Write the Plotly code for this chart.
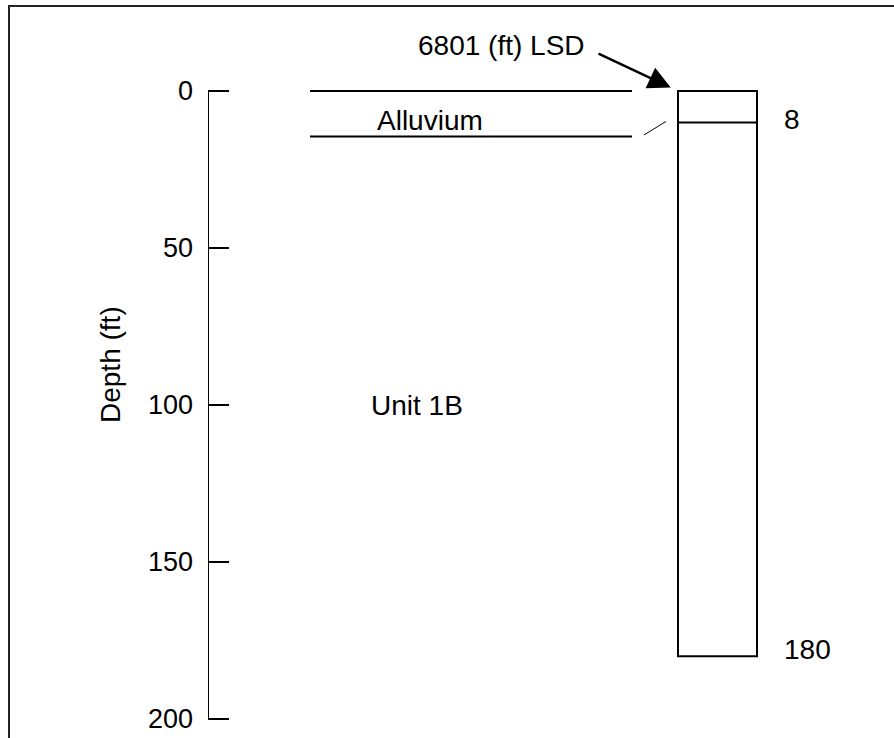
import plotly.graph_objects as go

# ---- data ----
depth_ticks = [0, 50, 100, 150, 200]
depth_tick_labels = ["0", "50", "100", "150", "200"]
lsd_elevation_ft = 6801
well_total_depth = 180
alluvium_base_label = 8
column_contact_depth = 10        # contact line as drawn inside the column
left_alluvium_base = 14.5        # base of alluvium band on the left
unit_names = ["Alluvium", "Unit 1B"]
unit_label_depths = [9.4, 100]

FONT = "Liberation Sans, Arial, sans-serif"
W, H = 894, 738
PX_TOP0 = 91       # pixel of depth 0
PX_200 = 719       # pixel of depth 200
ppf = (PX_200 - PX_TOP0) / 200.0
plot_top, plot_bot = 82, 726
y_lo = -(PX_TOP0 - plot_top) / ppf
y_hi = 200 + (plot_bot - PX_200) / ppf
LEFT = 208

def ypaper(px):
    return (plot_bot - px) / (plot_bot - plot_top)

fig = go.Figure()
fig.add_trace(go.Scatter(x=[LEFT], y=[0], mode="markers", marker=dict(opacity=0),
                         hoverinfo="skip", showlegend=False))

line = dict(color="black", width=2)
shapes = []
# depth axis line
shapes.append(dict(type="line", xref="x", yref="y", x0=LEFT, x1=LEFT,
                   y0=depth_ticks[0], y1=depth_ticks[-1], line=line))
# alluvium band lines (left)
shapes.append(dict(type="line", xref="x", yref="y", x0=310, x1=632,
                   y0=0, y1=0, line=line))
shapes.append(dict(type="line", xref="x", yref="y", x0=310, x1=632,
                   y0=left_alluvium_base, y1=left_alluvium_base, line=line))
# connector
shapes.append(dict(type="line", xref="x", yref="y", x0=644, x1=666,
                   y0=left_alluvium_base - 0.5, y1=column_contact_depth - 0.3,
                   line=dict(color="black", width=1)))
# well column
shapes.append(dict(type="rect", xref="x", yref="y", x0=678, x1=757,
                   y0=0, y1=well_total_depth, line=line, fillcolor="rgba(0,0,0,0)"))
shapes.append(dict(type="line", xref="x", yref="y", x0=678, x1=757,
                   y0=column_contact_depth, y1=column_contact_depth, line=line))
# outer frame
shapes.append(dict(type="rect", xref="paper", yref="paper",
                   x0=(9 - LEFT) / (W - LEFT), x1=1.02,
                   y0=-0.1, y1=ypaper(6),
                   line=dict(color="#222222", width=2), fillcolor="rgba(0,0,0,0)"))

tf = dict(family=FONT, size=28, color="black")
tick_font = dict(family=FONT, size=27, color="black")
ann = []
ann.append(dict(x=430, y=unit_label_depths[0], xref="x", yref="y", text=unit_names[0],
                showarrow=False, font=tf, xanchor="center", yanchor="middle"))
ann.append(dict(x=417, y=unit_label_depths[1], xref="x", yref="y", text=unit_names[1],
                showarrow=False, font=tf, xanchor="center", yanchor="middle"))
ann.append(dict(x=782, y=alluvium_base_label, xref="x", yref="y",
                text=str(alluvium_base_label), showarrow=False, font=tf,
                xanchor="left", yanchor="middle", yshift=-3))
ann.append(dict(x=782, y=well_total_depth, xref="x", yref="y",
                text=str(well_total_depth), showarrow=False, font=tf,
                xanchor="left", yanchor="middle", yshift=7))
ann.append(dict(x=501, y=ypaper(45), xref="x", yref="paper",
                text=f"{lsd_elevation_ft} (ft) LSD", showarrow=False, font=tf,
                xanchor="center", yanchor="middle"))
ann.append(dict(x=678, y=0, xref="x", yref="y", text="", showarrow=True,
                ax=-81, ay=-38, arrowhead=2, arrowsize=1.8, arrowwidth=2.5,
                arrowcolor="black", standoff=8))
ann.append(dict(x=(110 - LEFT) / (W - LEFT), y=ypaper(365), xref="paper", yref="paper",
                text="Depth (ft)", textangle=-90, showarrow=False, font=tf,
                xanchor="center", yanchor="middle"))

fig.update_layout(
    width=W, height=H,
    margin=dict(l=LEFT, r=0, t=plot_top, b=H - plot_bot, autoexpand=False),
    paper_bgcolor="white", plot_bgcolor="white",
    showlegend=False,
    xaxis=dict(visible=False, range=[LEFT, W], fixedrange=True),
    yaxis=dict(range=[y_hi, y_lo], tickvals=depth_ticks, ticktext=depth_tick_labels,
               ticks="inside", ticklen=21, tickwidth=2, tickcolor="black",
               showline=False, showgrid=False, zeroline=False,
               tickfont=tick_font, ticklabelstandoff=14, automargin=False,
               fixedrange=True),
    shapes=shapes, annotations=ann,
    font=dict(family=FONT),
)

fig.write_html("out.html",
               config={"displayModeBar": False, "staticPlot": True},
               post_script="document.body.style.margin='0';document.body.style.overflow='hidden';")
